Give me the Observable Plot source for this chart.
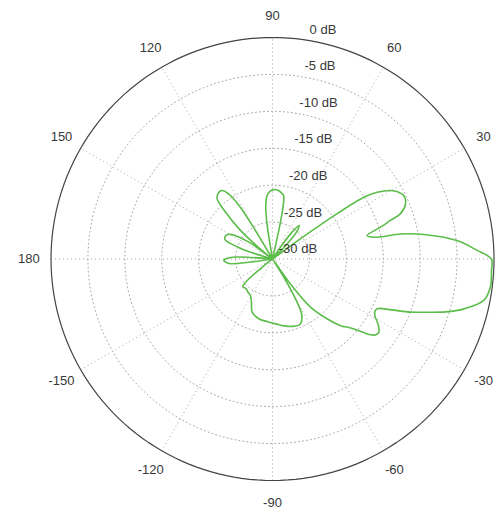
<!DOCTYPE html>
<html><head><meta charset="utf-8">
<script src="https://cdn.jsdelivr.net/npm/d3@7"></script>
<script src="https://cdn.jsdelivr.net/npm/@observablehq/plot@0.6"></script>
<style>body{margin:0;background:#fff}</style>
</head><body><div id="chart"></div>
<script>
// Radiation pattern: angle (deg) and gain (dB)
const patternAngles = [-180,-178,-176,-174,-172,-170,-160,-150,-142,-141,-139.5,-137,-132,-126,-121,-116,-111,-103,-95,-87,-80,-74,-67,-62.5,-60,-58,-56.3,-54.5,-51.7,-48,-44,-42,-39.5,-38,-36.5,-34.6,-32,-29.5,-27.5,-25.4,-23.2,-21.1,-19.4,-17,-14.6,-11.1,-7.4,-3,0,2.4,5.7,9.2,11,12,13.9,16.4,18.1,19.5,22.5,25.8,28,30.1,32.5,34,35,35.8,36.5,44,46,49,51.5,54,56,58,70,77,78.3,80,82,85,89,92,95,97.5,99,100,110,120,121,122,124,126.3,129,132.5,135,138,140,141,143,144.7,149,152,155.9,158.5,161,162.5,164,174,176,177.5,180];
const patternGains = [-23.6,-23.4,-23.7,-24.1,-27,-30,-30,-30,-30,-28,-25.5,-24.5,-24.6,-24.4,-24.2,-23.5,-22.3,-21.7,-21.5,-21.2,-20.8,-20.5,-20.4,-21.4,-23.8,-27,-30,-26,-21.7,-19.3,-16.9,-16.2,-14.6,-13.4,-12.7,-12.5,-13.1,-14.0,-14.4,-14.3,-12.5,-10,-8.3,-5.5,-3.2,-0.85,-0.25,-0.3,-0.35,-2.25,-4.9,-9.2,-12.3,-15.8,-16.8,-14.75,-13.2,-11.6,-10.5,-10.25,-10.7,-11.5,-13.2,-15,-19,-25,-30,-30,-27,-24.8,-24.2,-25.5,-28,-30,-30,-30,-23.5,-21.3,-21.0,-20.7,-20.6,-20.8,-21.4,-23,-25.5,-30,-30,-30,-25,-21.4,-19.4,-18.5,-18.4,-18.9,-21,-23.9,-27,-30,-30,-26,-23.6,-23.0,-22.9,-23.2,-25,-26.2,-30,-30,-27,-24.6,-23.6];

const ringLevels = [-25, -20, -15, -10, -5];
const ringLabelLevels = [0, -5, -10, -15, -20, -25, -30];
const ringLabelTexts = ["0 dB", "-5 dB", "-10 dB", "-15 dB", "-20 dB", "-25 dB", "-30 dB"];
const spokeAngles = [0, 30, 60, 90, 120, 150];
const angleLabelValues = [30, 60, 90, 120, 150, 180, -150, -120, -90, -60, -30];
const angleLabelTexts = ["30", "60", "90", "120", "150", "180", "-150", "-120", "-90", "-60", "-30"];

const floorDb = -30, topDb = 0, R = topDb - floorDb;
const rad = a => a * Math.PI / 180;
const rOf = db => Math.max(db, floorDb) - floorDb;

const pattern = patternAngles.map((a, i) => ({a, r: rOf(patternGains[i])}));
const circle = lvl => d3.range(0, 361, 2).map(a => ({a, r: rOf(lvl), lvl}));
const rings = ringLevels.flatMap(circle);
const outer = circle(topDb);
const spokes = spokeAngles.map(a => ({a}));
const ringLabels = ringLabelLevels.map((lvl, i) => ({r: rOf(lvl) + 0.25, a: 82, t: ringLabelTexts[i]}));
const angleLabels = angleLabelValues.map((a, i) => ({a, r: 1.1 * R, t: angleLabelTexts[i]}));

const px = d => d.r * Math.cos(rad(d.a));
const py = d => d.r * Math.sin(rad(d.a));

const chart = Plot.plot({
  width: 504, height: 513, margin: 0,
  x: {domain: [-36.84, 31.42], axis: null},
  y: {domain: [-34.47, 35.01], axis: null},
  style: {fontFamily: "Liberation Sans, Arial, sans-serif", fontSize: "13px", background: "white"},
  marks: [
    Plot.line(rings, {x: px, y: py, z: "lvl", stroke: "#a8a8a8", strokeWidth: 1, strokeDasharray: "1,3"}),
    Plot.link(spokes, {x1: d => -R * Math.cos(rad(d.a)), y1: d => -R * Math.sin(rad(d.a)), x2: d => R * Math.cos(rad(d.a)), y2: d => R * Math.sin(rad(d.a)), stroke: "#a8a8a8", strokeWidth: 1, strokeDasharray: "1,3"}),
    Plot.line(outer, {x: px, y: py, stroke: "#444", strokeWidth: 1.2}),
    Plot.line(pattern, {x: px, y: py, curve: "catmull-rom", stroke: "#5cbd4a", strokeWidth: 1.6}),
    Plot.text(ringLabels, {x: px, y: py, text: "t", textAnchor: "start", lineAnchor: "bottom", dx: 6, dy: -4, fill: "#383838"}),
    Plot.text(angleLabels, {x: px, y: py, text: "t", textAnchor: "middle", fill: "#383838"})
  ]
});
document.getElementById("chart").append(chart);
</script>
</body></html>
